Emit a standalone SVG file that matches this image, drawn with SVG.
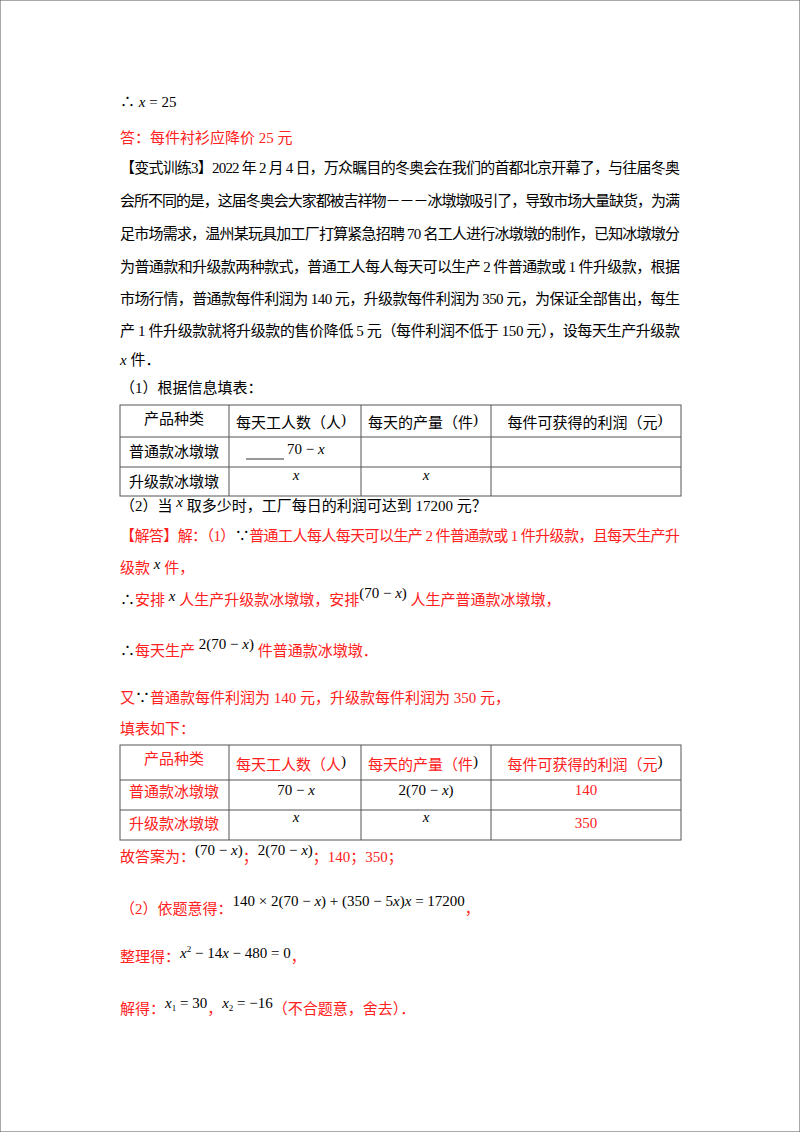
<svg xmlns="http://www.w3.org/2000/svg" width="800" height="1132" viewBox="0 0 800 1132">
<style>
text{font-family:"Liberation Serif","Noto Sans CJK SC",serif;font-size:15px;fill:#000}
.r{fill:#ff2020}
.m{font-family:"Liberation Serif",serif;font-size:15px}
.i{font-style:italic}
.c{text-anchor:middle}
line,rect{stroke:#555;stroke-width:1;fill:none}
</style>
<rect width="800" height="1132" fill="#fff" stroke="none"/>
<text x="120" y="107">∴ <tspan class="i">x</tspan> = 25</text>
<text x="120" y="143" class="r">答：每件衬衫应降价 25 元</text>
<text x="120" y="173" textLength="560" lengthAdjust="spacing">【变式训练3】2022 年 2 月 4 日，万众瞩目的冬奥会在我们的首都北京开幕了，与往届冬奥</text>
<text x="120" y="206" textLength="560" lengthAdjust="spacing">会所不同的是，这届冬奥会大家都被吉祥物－－－冰墩墩吸引了，导致市场大量缺货，为满</text>
<text x="120" y="239" textLength="560" lengthAdjust="spacing">足市场需求，温州某玩具加工厂打算紧急招聘 70 名工人进行冰墩墩的制作，已知冰墩墩分</text>
<text x="120" y="272" textLength="560" lengthAdjust="spacing">为普通款和升级款两种款式，普通工人每人每天可以生产 2 件普通款或 1 件升级款，根据</text>
<text x="120" y="304" textLength="560" lengthAdjust="spacing">市场行情，普通款每件利润为 140 元，升级款每件利润为 350 元，为保证全部售出，每生</text>
<text x="120" y="336" textLength="560" lengthAdjust="spacing">产 1 件升级款就将升级款的售价降低 5 元（每件利润不低于 150 元），设每天生产升级款</text>
<text x="120" y="365"><tspan class="i">x</tspan> 件．</text>
<text x="120" y="393">（1）根据信息填表：</text>
<g id="table1">
<rect x="120" y="405" width="561" height="91"/>
<line x1="120" y1="437" x2="681" y2="437"/><line x1="120" y1="467" x2="681" y2="467"/>
<line x1="229" y1="405" x2="229" y2="496"/><line x1="361" y1="405" x2="361" y2="496"/><line x1="491" y1="405" x2="491" y2="496"/>
<text x="174" y="424" class="c">产品种类</text>
<text x="291" y="428" class="c">每天工人数（人<tspan dy="-4">)</tspan></text>
<text x="423" y="428" class="c">每天的产量（件<tspan dy="-4">)</tspan></text>
<text x="585" y="428" class="c">每件可获得的利润（元<tspan dy="-4">)</tspan></text>
<text x="174" y="457" class="c">普通款冰墩墩</text>
<line x1="246" y1="459" x2="284" y2="459" style="stroke:#333"/>
<text x="287" y="454">70 − <tspan class="i">x</tspan></text>
<text x="174" y="487" class="c">升级款冰墩墩</text>
<text x="296" y="480" class="c i">x</text>
<text x="426" y="480" class="c i">x</text>
</g>
<text x="120" y="511">（2）当 <tspan class="i" dy="-4">x</tspan><tspan dy="4"> 取多少时，工厂每日的利润可达到 17200 元？</tspan></text>
<text x="120" y="541" class="r" textLength="560" lengthAdjust="spacing">【解答】解：（1）<tspan fill="#000">∵</tspan>普通工人每人每天可以生产 2 件普通款或 1 件升级款，且每天生产升</text>
<text x="120" y="573" class="r">级款 <tspan fill="#000" class="i" dy="-4">x</tspan><tspan dy="4"> 件，</tspan></text>
<text x="120" y="605" class="r"><tspan fill="#000">∴</tspan>安排 <tspan fill="#000" class="i" dy="-4">x</tspan><tspan dy="4"> 人生产升级款冰墩墩，安排</tspan><tspan fill="#000" dy="-7">(70 − <tspan class="i">x</tspan>)</tspan><tspan dy="7"> 人生产普通款冰墩墩，</tspan></text>
<text x="120" y="656" class="r"><tspan fill="#000">∴</tspan>每天生产 <tspan fill="#000" dy="-7">2(70 − <tspan class="i">x</tspan>)</tspan><tspan dy="7"> 件普通款冰墩墩．</tspan></text>
<text x="120" y="703" class="r">又<tspan fill="#000">∵</tspan>普通款每件利润为 140 元，升级款每件利润为 350 元，</text>
<text x="120" y="734" class="r">填表如下：</text>
<g id="table2">
<rect x="120" y="745" width="561" height="95"/>
<line x1="120" y1="780" x2="681" y2="780"/><line x1="120" y1="810" x2="681" y2="810"/>
<line x1="229" y1="745" x2="229" y2="840"/><line x1="361" y1="745" x2="361" y2="840"/><line x1="491" y1="745" x2="491" y2="840"/>
<text x="174" y="764" class="c r">产品种类</text>
<text x="291" y="770" class="c r">每天工人数（人<tspan dy="-4" fill="#000">)</tspan></text>
<text x="423" y="770" class="c r">每天的产量（件<tspan dy="-4" fill="#000">)</tspan></text>
<text x="585" y="770" class="c r">每件可获得的利润（元<tspan dy="-4" fill="#000">)</tspan></text>
<text x="174" y="797" class="c r">普通款冰墩墩</text>
<text x="296" y="795" class="c">70 − <tspan class="i">x</tspan></text>
<text x="426" y="795" class="c">2(70 − <tspan class="i">x</tspan>)</text>
<text x="586" y="795" class="c r">140</text>
<text x="174" y="829" class="c r">升级款冰墩墩</text>
<text x="296" y="822" class="c i">x</text>
<text x="426" y="822" class="c i">x</text>
<text x="586" y="828" class="c r">350</text>
</g>
<text x="120" y="862" class="r">故答案为：<tspan fill="#000" dy="-7">(70 − <tspan class="i">x</tspan>)</tspan><tspan dy="7">；</tspan><tspan fill="#000" dy="-7">2(70 − <tspan class="i">x</tspan>)</tspan><tspan dy="7">；140；350；</tspan></text>
<text x="120" y="914" class="r">（2）依题意得：<tspan fill="#000" dy="-8">140 × 2(70 − <tspan class="i">x</tspan>) + (350 − 5<tspan class="i">x</tspan>)<tspan class="i">x</tspan> = 17200</tspan><tspan dy="8">，</tspan></text>
<text x="120" y="962" class="r">整理得：<tspan fill="#000" dy="-4" class="i">x</tspan><tspan fill="#000" dy="-6" font-size="9">2</tspan><tspan fill="#000" dy="6"> − 14<tspan class="i">x</tspan> − 480 = 0</tspan><tspan dy="4">，</tspan></text>
<text x="120" y="1014" class="r">解得：<tspan fill="#000" dy="-6"><tspan class="i">x</tspan><tspan font-size="9" dy="3">1</tspan><tspan dy="-3"> = 30</tspan></tspan><tspan dy="6">，</tspan><tspan fill="#000" dy="-6"><tspan class="i">x</tspan><tspan font-size="9" dy="3">2</tspan><tspan dy="-3"> = −16</tspan></tspan><tspan dy="6">（不合题意，舍去）．</tspan></text>
</svg>
